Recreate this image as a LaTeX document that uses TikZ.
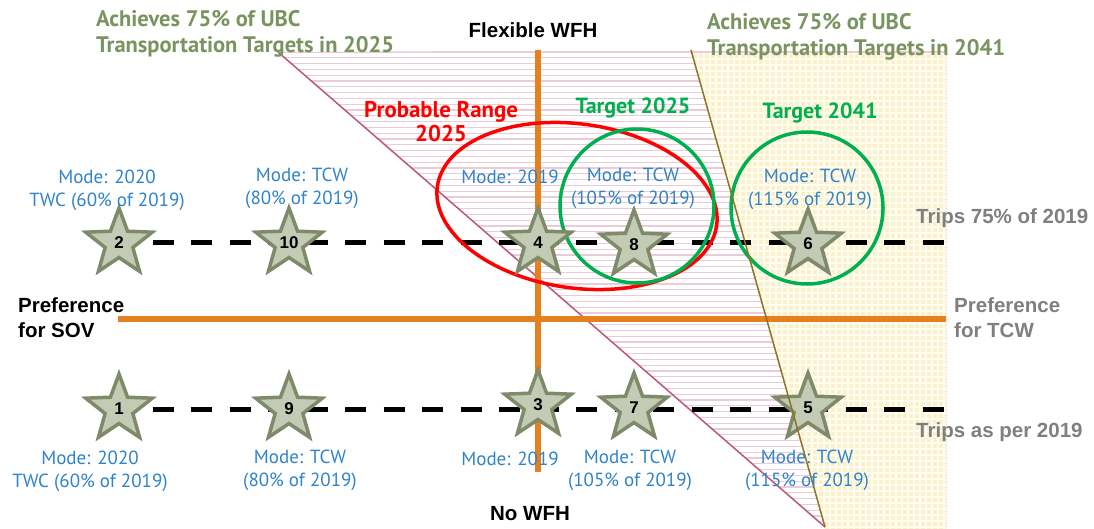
\documentclass[tikz,border=0pt]{standalone}
\usepackage{fontspec}
\setmainfont{Liberation Sans}
\newfontfamily\ptsans{PT Sans}
\usetikzlibrary{shapes.geometric}

\definecolor{headolive}{HTML}{7A9460}
\definecolor{targetgreen}{HTML}{00B050}
\definecolor{rangered}{HTML}{FF0000}
\definecolor{modeblue}{HTML}{2F83C9}
\definecolor{labelgrey}{HTML}{7F7F7F}
\definecolor{axisorange}{HTML}{E5801E}
\definecolor{starfill}{HTML}{C3CBB4}
\definecolor{stardraw}{HTML}{7E8A6A}
\definecolor{hatchpink}{HTML}{EBCBD5}
\definecolor{edgemauve}{HTML}{B9587C}
\definecolor{edgeolive}{HTML}{8C7426}
\definecolor{checkbg}{HTML}{FAF0CC}
\definecolor{checkline}{HTML}{FFFCF0}

\tikzset{
  modetext/.style={font=\ptsans\fontsize{19}{23}\selectfont, text=modeblue, align=center, inner sep=0pt},
  headtext/.style={font=\ptsans\bfseries\fontsize{22.5}{26}\selectfont, text=headolive, align=left, inner sep=0pt},
  targettext/.style={font=\ptsans\bfseries\fontsize{22}{24}\selectfont, text=targetgreen, inner sep=0pt},
  rangetext/.style={font=\ptsans\bfseries\fontsize{22.8}{24}\selectfont, text=rangered, align=center, inner sep=0pt},
  axistext/.style={font=\bfseries\fontsize{20.5}{25}\selectfont, text=black, align=left, inner sep=0pt},
  sidetext/.style={font=\bfseries\fontsize{20.5}{25}\selectfont, text=labelgrey, align=left, inner sep=0pt},
  starnode/.style={shape=star, star points=5, star point ratio=2.4, minimum size=70pt,
    inner sep=0pt, fill=starfill, draw=stardraw, line width=3.5pt,
    font=\bfseries\fontsize{17}{17}\selectfont, text=black},
  dashline/.style={line width=5pt, dash pattern=on 21pt off 17.5pt, dash phase=5pt},
  axisline/.style={axisorange, line width=5.5pt},
  ring/.style={line width=3.5pt},
}

\begin{document}
\begin{tikzpicture}[x=1pt, y=-1pt]
\useasboundingbox (0,0) rectangle (1094,529);

% region beyond the 2041 line: light yellow check
\begin{scope}
  \clip (691,52) -- (946,52) -- (946,529) -- (825,529) -- cycle;
  \fill[checkbg] (680,40) rectangle (950,530);
  \foreach \x in {692,698,...,950} \draw[checkline, line width=1.6pt] (\x,40) -- (\x,530);
  \foreach \y in {53,59,...,530} \draw[checkline, line width=1.6pt] (680,\y) -- (950,\y);
\end{scope}
\draw[hatchpink, line width=1pt, dotted] (946,52) -- (946,527);

% region between the 2025 and 2041 lines: pink horizontal hatching
\begin{scope}
  \clip (278,52) -- (691,50) -- (825,527) -- cycle;
  \foreach \y in {52,57.8,...,530} \draw[hatchpink, line width=1.1pt] (270,\y) -- (830,\y);
\end{scope}
\draw[hatchpink, line width=1.1pt] (691,52) -- (946,52);

% boundary of the 2025 target zone
\coordinate (e25a) at (278,52);
\coordinate (e25b) at (825,527);
\draw[edgemauve, line width=1.5pt] (e25a) -- (e25b);

% star positions
\coordinate (p1) at (119,409);
\coordinate (p2) at (119,243);
\coordinate (p3) at (538,405);
\coordinate (p4) at (538,243);
\coordinate (p5) at (808,408);
\coordinate (p6) at (808,244);
\coordinate (p7) at (634,408);
\coordinate (p8) at (634,245);
\coordinate (p9) at (289,409);
\coordinate (p10) at (289,243);

% axes
\coordinate (wfhtop) at (538,50);
\coordinate (wfhbot) at (538,472);
\coordinate (sovend) at (118,319);
\coordinate (tcwend) at (946,319);
\draw[axisline] (wfhtop) -- (wfhbot);
\draw[axisline] (sovend) -- (tcwend);

% trip levels
\coordinate (t75end) at (945,243);
\coordinate (t19end) at (945,409);
\draw[dashline] (p2) -- (t75end);
\draw[dashline] (p1) -- (t19end);

% ranges
\draw[ring, rangered, rotate around={-8:(577,206)}] (577,206) ellipse (141 and 82);
\draw[ring, targetgreen] (637,206) circle (77);
\draw[ring, targetgreen] (807,208) circle (76);

% scenarios
\node[starnode] (s1) at (p1) {1};
\node[starnode] (s2) at (p2) {2};
\node[starnode] (s3) at (p3) {3};
\node[starnode] (s4) at (p4) {4};
\node[starnode] (s5) at (p5) {5};
\node[starnode] (s6) at (p6) {6};
\node[starnode] (s7) at (p7) {7};
\node[starnode] (s8) at (p8) {8};
\node[starnode] (s9) at (p9) {9};
\node[starnode] (s10) at (p10) {10};

% boundary of the 2041 target zone
\coordinate (e41a) at (691,50);
\coordinate (e41b) at (825,527);
\draw[edgeolive, line width=1.5pt] (e41a) -- (e41b);

% headings
\node[headtext, anchor=west] (h25) at (96,34) {Achieves 75\% of UBC\\Transportation Targets in 2025};
\node[headtext, anchor=west] (h41) at (707,37) {Achieves 75\% of UBC\\Transportation Targets in 2041};
\node[axistext, anchor=center] (flex) at (533,30) {Flexible WFH};
\node[axistext, anchor=center] (nowfh) at (530,514) {No WFH};
\node[axistext, anchor=west] (sov) at (18,318) {Preference\\for SOV};
\node[sidetext, anchor=west] (tcw) at (954,318) {Preference\\for TCW};
\node[sidetext, anchor=west] (trips75) at (916,218) {Trips 75\% of 2019};
\node[sidetext, anchor=west] (trips19) at (916,432) {Trips as per 2019};
\node[rangetext] (prob) at (441,122) {Probable Range\\2025};
\node[targettext] (tg25) at (633,108) {Target 2025};
\node[targettext] (tg41) at (820,113) {Target 2041};

% mode labels
\node[modetext] (m2) at (107,190) {Mode: 2020\\TWC (60\% of 2019)};
\node[modetext] (m10) at (302,188) {Mode: TCW\\(80\% of 2019)};
\node[modetext] (m4) at (510,177) {Mode: 2019};
\node[modetext] (m8) at (633,188) {Mode: TCW\\(105\% of 2019)};
\node[modetext] (m6) at (810,189) {Mode: TCW\\(115\% of 2019)};
\node[modetext] (m1) at (90,471) {Mode: 2020\\TWC (60\% of 2019)};
\node[modetext] (m9) at (300,470) {Mode: TCW\\(80\% of 2019)};
\node[modetext] (m3) at (510,459) {Mode: 2019};
\node[modetext] (m7) at (630,470) {Mode: TCW\\(105\% of 2019)};
\node[modetext] (m5) at (807,470) {Mode: TCW\\(115\% of 2019)};
\end{tikzpicture}
\end{document}
